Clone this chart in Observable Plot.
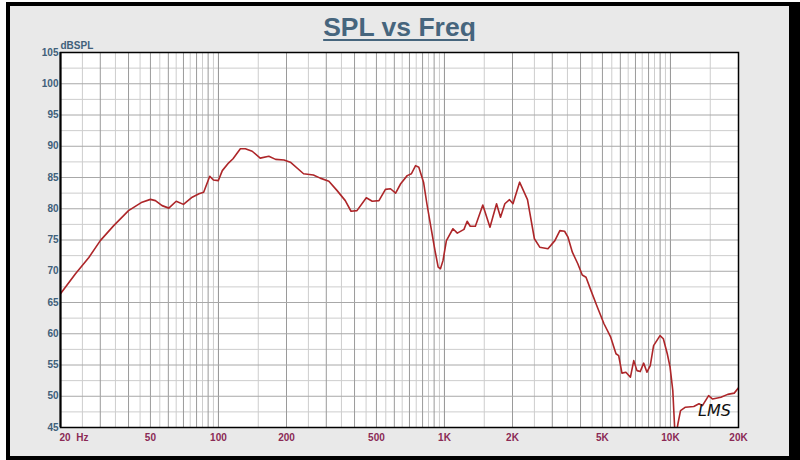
<!DOCTYPE html>
<html>
<head>
<meta charset="utf-8">
<script src="https://cdn.jsdelivr.net/npm/d3@7"></script>
<script src="https://cdn.jsdelivr.net/npm/@observablehq/plot@0.6"></script>
<style>
  html, body { margin: 0; padding: 0; background: #fff; }
  body { width: 800px; height: 460px; overflow: hidden; position: relative; font-family: "Liberation Sans", Arial, sans-serif; }
  #panel {
    position: absolute; left: 6px; top: 2px; width: 779px; height: 450px;
    border-left: 4px solid #000; border-top: 4px solid #000;
    border-right: 11px solid #000; border-bottom: 4px solid #000;
    background: #e9e9e9;
  }
  #title {
    height: 34px; box-sizing: border-box; padding-top: 9px; line-height: 25px;
    text-align: center; font-size: 26.5px; font-weight: bold; color: #46657d;
    text-decoration: underline; text-decoration-thickness: 2px; text-underline-offset: 3px;
  }
  #chart svg { display: block; }
</style>
</head>
<body>
<div id="panel">
  <div id="title">SPL vs Freq</div>
  <div id="chart"></div>
</div>
<script>
const freqHz = [20, 23.3, 26.7, 30, 34.4, 40, 45.9, 50, 52.6, 56.3, 60.3, 65, 70, 76.5, 82, 86, 91.5, 95, 99.8,
  104, 111, 116, 125, 131.5, 141, 153, 167, 179, 195, 208, 238, 263, 282, 308, 335, 364, 386, 410, 451, 479,
  513, 548, 577, 608, 640, 684, 714, 745, 770, 808, 836, 871, 908, 938, 960, 985, 1020, 1090, 1140, 1220,
  1260, 1300, 1370, 1478, 1590, 1700, 1770, 1850, 1940, 2010, 2150, 2330, 2500, 2640, 2870, 3080, 3240,
  3400, 3520, 3680, 3890, 4070, 4230, 4450, 4750, 5080, 5440, 5740, 5900, 6100, 6350, 6650, 6880, 7110,
  7350, 7610, 7870, 8140, 8420, 8990, 9300, 9680, 9960, 10240, 10500, 10790, 11080, 11650, 12680, 13370,
  13850, 14750, 15360, 16720, 17920, 19150, 20000];
const splDb = [66.4, 69.6, 72.2, 74.9, 77.3, 79.7, 81.05, 81.5, 81.3, 80.5, 80.1, 81.2, 80.7, 81.85, 82.4, 82.65, 85.2, 84.6, 84.5,
  86.1, 87.35, 88.0, 89.6, 89.6, 89.2, 88.1, 88.4, 87.9, 87.8, 87.45, 85.6, 85.4, 84.9, 84.4, 82.9, 81.3, 79.6, 79.7, 81.75, 81.2,
  81.3, 83.1, 83.2, 82.5, 84.0, 85.3, 85.6, 86.9, 86.65, 84.25, 80.8, 77.05, 73.3, 70.65, 70.4, 71.7, 74.9, 76.8, 76.1, 76.7,
  78.0, 77.2, 77.2, 80.6, 77.05, 80.8, 78.65, 80.8, 81.45, 80.8, 84.25, 81.45, 75.2, 73.85, 73.6, 74.9, 76.5,
  76.4, 75.45, 73.05, 71.2, 69.4, 69.05, 66.9, 64.25, 61.6, 59.45, 56.8, 56.5, 53.7, 53.85, 53.05, 55.7, 54.1,
  53.95, 55.3, 53.85, 54.9, 58.1, 59.7, 59.2, 56.8, 54.65, 50.9, 43.0, 45.6, 47.7, 48.25, 48.35, 48.8,
  48.5, 50.1, 49.55, 49.85, 50.3, 50.5, 51.35];

// Axis tick labels
const xTickValues = [50, 100, 200, 500, 1000, 2000, 5000, 10000, 20000];
const xTickLabels = ["50", "100", "200", "500", "1K", "2K", "5K", "10K", "20K"];
const xFirstLabel = "20\u00a0\u00a0Hz";
const yTickValues = [45, 50, 55, 60, 65, 70, 75, 80, 85, 90, 95, 100, 105];
const yUnit = "dBSPL";
const signature = "LMS";

// Grid tick sets (1-2-3... per decade, with half steps)
const decades = [10, 100, 1000, 10000];
const gridMajorX = [], gridMinorX = [];
decades.forEach(d => {
  for (let m = 1; m <= 10; m += 0.5) {
    const f = d * m;
    if (f < 20 || f > 20000) continue;
    (Number.isInteger(m) ? gridMajorX : gridMinorX).push(f);
  }
});
const gridMajorY = yTickValues;
const gridMinorY = d3.range(47.5, 105, 5);

const data = freqHz.map((f, i) => ({f, db: splDb[i]}));

const labelBlue = "#40607a";
const labelRed = "#8b2a55";

const chart = Plot.plot({
  width: 779,
  height: 416,
  marginLeft: 50,
  marginRight: 51,
  marginTop: 12,
  marginBottom: 29,
  style: {background: "transparent", fontFamily: "'Liberation Sans', Arial, sans-serif", overflow: "visible"},
  x: {type: "log", domain: [20, 20000], axis: null},
  y: {domain: [45, 105], axis: null},
  marks: [
    Plot.frame({fill: "#fff", stroke: null}),
    Plot.ruleX(gridMinorX, {stroke: "#cdcdcd", strokeWidth: 1}),
    Plot.ruleY(gridMinorY, {stroke: "#cdcdcd", strokeWidth: 1}),
    Plot.ruleX(gridMajorX, {stroke: "#9a9a9a", strokeWidth: 1}),
    Plot.ruleY(gridMajorY, {stroke: "#a8a8a8", strokeWidth: 1}),
    Plot.line(data, {x: "f", y: "db", stroke: "#ad2629", strokeWidth: 1.6, clip: true}),
    Plot.frame({stroke: "#000", strokeWidth: 1.5}),
    Plot.ruleX([20], {stroke: "#000", strokeWidth: 2}),
    Plot.text(yTickValues, {y: d => d, text: d => String(d), frameAnchor: "left", dx: -2, textAnchor: "end",
      lineAnchor: "middle", fill: labelBlue, fontWeight: "bold", fontSize: 10}),
    Plot.text([yUnit], {frameAnchor: "top-left", dy: -7, textAnchor: "start", lineAnchor: "middle",
      fill: labelBlue, fontWeight: "bold", fontSize: 10}),
    Plot.text(xTickValues, {x: d => d, text: (d, i) => xTickLabels[i], frameAnchor: "bottom", dy: 10,
      textAnchor: "middle", lineAnchor: "middle", fill: labelRed, fontWeight: "bold", fontSize: 10}),
    Plot.text([xFirstLabel], {frameAnchor: "bottom-left", dx: -1, dy: 10, textAnchor: "start", lineAnchor: "middle",
      fill: labelRed, fontWeight: "bold", fontSize: 10}),
    Plot.text([signature], {frameAnchor: "bottom-right", dx: -24, dy: -17, textAnchor: "middle", lineAnchor: "middle",
      fill: "#111", fontStyle: "italic", fontSize: 16, fontFamily: "'DejaVu Sans', sans-serif"})
  ]
});
document.getElementById("chart").appendChild(chart);
</script>
</body>
</html>
